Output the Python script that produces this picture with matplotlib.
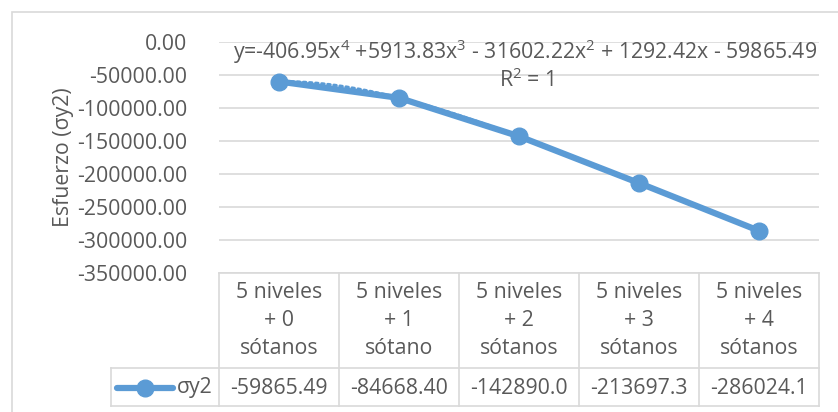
import numpy as np
import matplotlib.pyplot as plt
import matplotlib.transforms as mtrans
from matplotlib.patches import Rectangle
from matplotlib.lines import Line2D
from matplotlib.ticker import FixedLocator, FuncFormatter

categories = ["5 niveles\n+ 0\nsótanos", "5 niveles\n+ 1\nsótano", "5 niveles\n+ 2\nsótanos",
              "5 niveles\n+ 3\nsótanos", "5 niveles\n+ 4\nsótanos"]
sigma_y2 = [-59865.49, -84668.40, -142890.0, -213697.3, -286024.1]
series_name = "σy2"
trend_coeffs = [-406.95, 5913.83, -31602.22, 1292.42, -59865.49]
yticks = [0, -50000, -100000, -150000, -200000, -250000, -300000, -350000]
ylabel = "Esfuerzo (σy2)"
eq_text = "y=-406.95x$^{4}$ +5913.83x$^{3}$ - 31602.22x$^{2}$ + 1292.42x - 59865.49"
r2_text = "R$^{2}$ = 1"

W, H = 838, 412
BLUE = "#5B9BD5"
GRID = "#D9D9D9"
TXT = "#595959"
FS = 15.3

plt.rcParams['font.family'] = ['Open Sans', 'DejaVu Sans']
plt.rcParams['mathtext.fontset'] = 'custom'
plt.rcParams['mathtext.rm'] = 'Open Sans'

fig = plt.figure(figsize=(W / 100, H / 100), dpi=100)

def fx(px):
    return px / W

def fy(py):
    return 1 - py / H

# outer chart border
fig.add_artist(Rectangle((fx(12), fy(430)), fx(840 - 12), (430 - 12) / H,
                         transform=fig.transFigure, fill=False, edgecolor=GRID, lw=1.2))

L, R, T, B = 219, 819, 42, 273
ax = fig.add_axes([fx(L), fy(B), fx(R - L), (B - T) / H])
x = np.arange(len(sigma_y2))
ax.set_xlim(-0.5, len(sigma_y2) - 0.5)
ax.set_ylim(-350000, 0)
for s in ax.spines.values():
    s.set_visible(False)
ax.yaxis.set_major_locator(FixedLocator(yticks))
ax.yaxis.set_major_formatter(FuncFormatter(lambda v, p: f"{v:.2f}"))
ax.tick_params(axis='y', length=0, pad=23, labelsize=FS, labelcolor=TXT)
ax.set_xticks([])
ax.grid(axis='y', color=GRID, lw=1.2)
ax.set_axisbelow(True)

# trendline (polynomial order 4)
xs = np.linspace(0, len(sigma_y2) - 1, 300)
ax.plot(xs, np.polyval(trend_coeffs, xs), color=BLUE, lw=2.2, ls=(0, (0.8, 1.2)),
        dash_capstyle='round', zorder=2)
ax.plot(x, sigma_y2, color=BLUE, lw=4.5, marker='o', ms=12, zorder=3, clip_on=False,
        solid_capstyle='round')

fig.text(fx(525), fy(52), eq_text, ha='center', va='center', fontsize=FS, color=TXT)
fig.text(fx(526), fy(80), r2_text, ha='center', va='center', fontsize=FS, color=TXT)

fig.text(fx(63), fy(157), ylabel, rotation=90, ha='center', va='center', fontsize=FS, color=TXT)

# data table
bt = mtrans.blended_transform_factory(ax.transData, fig.transFigure)
top, mid, bot = fy(273), fy(368), fy(406)
n = len(sigma_y2)
for i in range(n + 1):
    fig.add_artist(Line2D([i - 0.5, i - 0.5], [top, bot], transform=bt, color=GRID, lw=1.2))
fig.add_artist(Line2D([-0.5, n - 0.5], [top, top], transform=bt, color=GRID, lw=1.2))
fig.add_artist(Line2D([fx(111), fx(R)], [mid, mid], transform=fig.transFigure, color=GRID, lw=1.2))
fig.add_artist(Line2D([fx(111), fx(R)], [bot, bot], transform=fig.transFigure, color=GRID, lw=1.2))
fig.add_artist(Line2D([fx(111), fx(111)], [mid, bot], transform=fig.transFigure, color=GRID, lw=1.2))

for i, (c, v) in enumerate(zip(categories, sigma_y2)):
    for j, line in enumerate(c.split("\n")):
        fig.text(i, fy(292 + 28.5 * j), line, transform=bt, ha='center', va='center',
                 fontsize=FS, color=TXT)
    fig.text(i, fy(388), f"{v:.2f}"[:9], transform=bt, ha='center', va='center',
             fontsize=FS, color=TXT)

# legend key
fig.add_artist(Line2D([fx(117), fx(173)], [fy(388), fy(388)], transform=fig.transFigure,
                      color=BLUE, lw=4.5, solid_capstyle='round'))
fig.add_artist(Line2D([fx(145)], [fy(388)], transform=fig.transFigure, color=BLUE,
                      marker='o', ms=12, lw=0))
fig.text(fx(177), fy(388), series_name, ha='left', va='center', fontsize=FS, color=TXT)

fig.savefig("out.png", dpi=100)
